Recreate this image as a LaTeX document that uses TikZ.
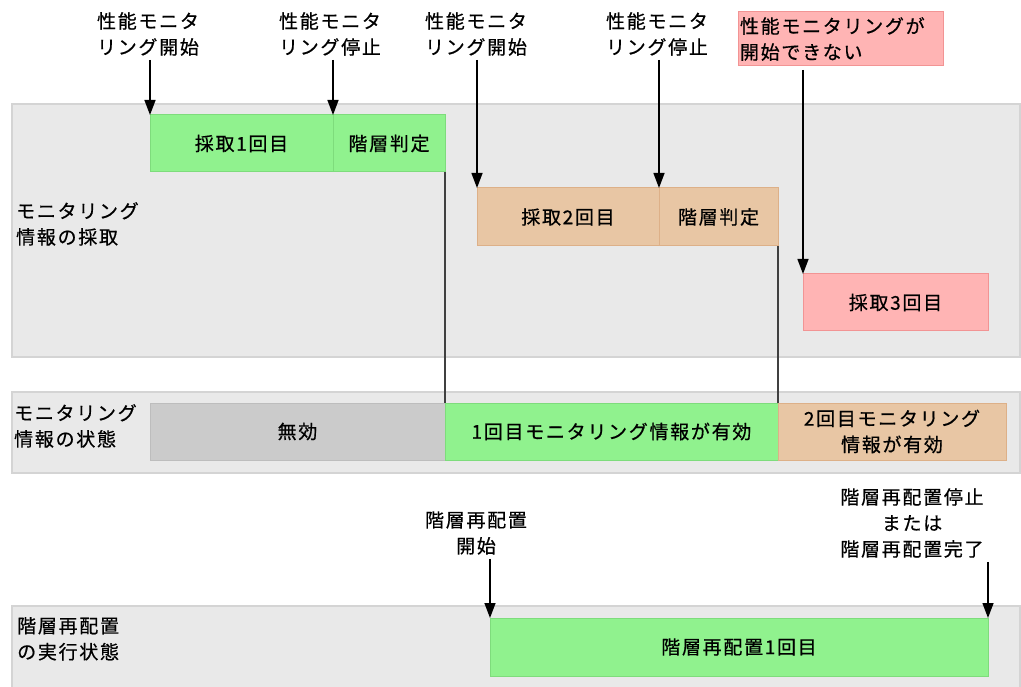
\documentclass[tikz,border=0pt]{standalone}
\usepackage{fontspec}
\setmainfont{Noto Sans CJK JP}[LetterSpace=9, FakeBold=0.6]
\usetikzlibrary{positioning,arrows.meta}
\definecolor{colorband}{HTML}{E9E9E9}
\definecolor{colorbandline}{HTML}{D4D4D4}
\definecolor{colorgreen}{HTML}{90F28E}
\definecolor{colorgreenline}{HTML}{7EDC7C}
\definecolor{colortan}{HTML}{E8C6A4}
\definecolor{colortanline}{HTML}{DDB088}
\definecolor{colorred}{HTML}{FFB4B4}
\definecolor{colorredline}{HTML}{F29494}
\definecolor{colorgray}{HTML}{CBCBCB}
\definecolor{colorgrayline}{HTML}{BDBDBD}
\tikzset{
    band/.style={draw=colorbandline, fill=colorband, line width=1.2pt},
    phase/.style={draw=#1line, fill=#1, line width=1pt, anchor=north west,
        inner sep=0pt, outer sep=0pt, align=center},
    event/.style={align=center, inner sep=0pt},
    rowlabel/.style={align=left, anchor=north west, inner sep=0pt},
    pointer/.style={-{Triangle[length=15pt,width=11pt]}, line width=1.4pt},
    handover/.style={draw=black!75, line width=1.4pt}
}

\begin{document}
\begin{tikzpicture}[x=1pt, y=-1pt, font=\fontsize{19}{26}\selectfont]
        \useasboundingbox (0,0) rectangle (1021,687);

        % bands
        \foreach \n/\t/\b in {b1/104/357, b2/392/473, b3/606/700} {
            \path [band] (12,\t) rectangle (1020,\b) coordinate (\n);
        }

        \node [rowlabel] (l1) at (16,202) {モニタリング\\情報の採取};
        \node [rowlabel] (l2) at (14,404) {モニタリング\\情報の状態};
        \node [rowlabel] (l3) at (17,617) {階層再配置\\の実行状態};

        % phases
        \foreach \n/\x/\y/\w/\h/\c/\t in {
                c1/150/115/183/57/colorgreen/採取1回目,
                c1j/333/115/112/57/colorgreen/階層判定,
                c2/477/188/182/58/colortan/採取2回目,
                c2j/659/188/119/58/colortan/階層判定,
                c3/803/274/185/57/colorred/採取3回目,
                s0/150/403/295/57/colorgray/無効,
                s1/445/403/333/57/colorgreen/1回目モニタリング情報が有効,
                s2/778/403/228/57/colortan/{2回目モニタリング\\情報が有効},
                r1/490/618/498/58/colorgreen/階層再配置1回目} {
            \node [phase=\c, minimum width=\w pt, minimum height=\h pt] (\n) at (\x,\y) {\t};
        }

        % events
        \node [event] (e1) at (148,34) {性能モニタ\\リング開始};
        \node [event] (e2) at (330,34) {性能モニタ\\リング停止};
        \node [event] (e3) at (476,34) {性能モニタ\\リング開始};
        \node [event] (e4) at (657,34) {性能モニタ\\リング停止};
        \node [phase=colorred, align=left, text width=201pt, minimum height=54pt,
            inner sep=2pt] (ng) at (738,12) {性能モニタリングが\\開始できない};
        \node [event] (h1) at (476,533) {階層再配置\\開始};
        \node [event] (h2) at (912,523) {階層再配置停止\\または\\階層再配置完了};

        \foreach \e/\c in {e1/c1, e2/c1j, e3/c2, e4/c2j, ng/c3, h1/r1} {
            \draw [pointer] (\e.south -| \c.north west) ++(0,4) -- (\c.north west);
        }
        \draw [pointer] (h2.south -| r1.north east) ++(0,4) -- (r1.north east);

        \draw [handover] (c1j.south east) -- (s1.north west);
        \draw [handover] (c2j.south east) -- (s2.north west);
    \end{tikzpicture}
\end{document}
